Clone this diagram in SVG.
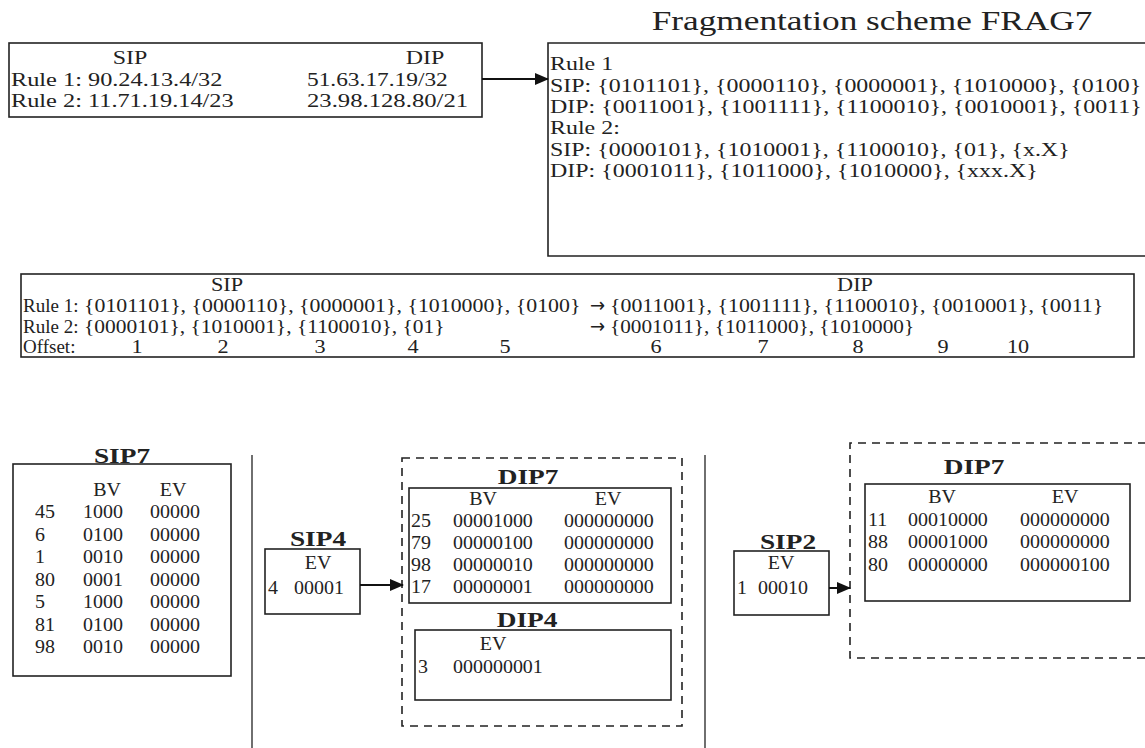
<svg xmlns="http://www.w3.org/2000/svg" width="1145" height="748" viewBox="0 0 1145 748">
  <defs>
    <marker id="arrowhead" markerWidth="14" markerHeight="12" refX="13" refY="6" orient="auto" markerUnits="userSpaceOnUse">
      <path d="M0,0 L14,6 L0,12 Z" fill="#111"/>
    </marker>
  </defs>
  <style>
    text { font-family: "Liberation Serif", "Times New Roman", serif; font-size: 19px; fill: #222; }
    .title { font-size: 28px; }
    .cell { font-size: 18px; }
    .bold { font-weight: bold; font-size: 21px; }
    .sym { font-family: "DejaVu Sans", sans-serif; font-size: 18px; }
    .mid { text-anchor: middle; }
    .box { fill: none; stroke: #222; stroke-width: 1.6; }
    .dash { fill: none; stroke: #222; stroke-width: 1.6; stroke-dasharray: 8 6; }
    .sep { stroke: #333; stroke-width: 1.4; }
    .link { stroke: #111; stroke-width: 2; fill: none; marker-end: url(#arrowhead); }
  </style>
  <rect width="1145" height="748" fill="#fff"/>

  <!-- prefix rules -->
  <g id="rules">
    <rect class="box" x="9" y="43" width="473" height="74"/>
    <text class="mid" transform="translate(130 64) scale(1.26 1)">SIP</text>
    <text class="mid" transform="translate(425 64) scale(1.26 1)">DIP</text>
    <text transform="translate(11 86) scale(1.28 1)">Rule 1: 90.24.13.4/32</text>
    <text transform="translate(307 86) scale(1.23 1)">51.63.17.19/32</text>
    <text transform="translate(11 107) scale(1.28 1)">Rule 2: 11.71.19.14/23</text>
    <text transform="translate(307 107) scale(1.3 1)">23.98.128.80/21</text>
  </g>

  <!-- fragmentation scheme -->
  <g id="frag7">
    <text class="title mid" transform="translate(872 30) scale(1.26 1)">Fragmentation scheme FRAG7</text>
    <polyline class="box" points="1146,43 548,43 548,256 1146,256"/>
    <text transform="translate(550 70) scale(1.26 1)">Rule 1</text>
    <text transform="translate(550 92) scale(1.26 1)">SIP: {0101101}, {0000110}, {0000001}, {1010000}, {0100}</text>
    <text transform="translate(550 113) scale(1.26 1)">DIP: {0011001}, {1001111}, {1100010}, {0010001}, {0011}</text>
    <text transform="translate(550 134) scale(1.26 1)">Rule 2:</text>
    <text transform="translate(550 156) scale(1.26 1)">SIP: {0000101}, {1010001}, {1100010}, {01}, {x.X}</text>
    <text transform="translate(550 177) scale(1.26 1)">DIP: {0001011}, {1011000}, {1010000}, {xxx.X}</text>
  </g>

  <!-- offset table -->
  <g id="offsets">
    <rect class="box" x="21" y="274" width="1113" height="83"/>
    <text class="mid" transform="translate(227 291) scale(1.17 1)">SIP</text>
    <text class="mid" transform="translate(855 291) scale(1.17 1)">DIP</text>
    <text transform="translate(23 312)">Rule 1:</text>
    <text transform="translate(84 312) scale(1.15 1)">{0101101}, {0000110}, {0000001}, {1010000}, {0100}</text>
    <text class="sym" transform="translate(590 312) scale(1 1.1)">→</text>
    <text transform="translate(610 312) scale(1.15 1)">{0011001}, {1001111}, {1100010}, {0010001}, {0011}</text>
    <text transform="translate(23 333)">Rule 2:</text>
    <text transform="translate(84 333) scale(1.13 1)">{0000101}, {1010001}, {1100010}, {01}</text>
    <text class="sym" transform="translate(590 333) scale(1 1.1)">→</text>
    <text transform="translate(610 333) scale(1.12 1)">{0001011}, {1011000}, {1010000}</text>
    <text transform="translate(23 353)">Offset:</text>
    <text class="mid" transform="translate(137 353) scale(1.17 1)">1</text>
    <text class="mid" transform="translate(223 353) scale(1.17 1)">2</text>
    <text class="mid" transform="translate(320 353) scale(1.17 1)">3</text>
    <text class="mid" transform="translate(413 353) scale(1.17 1)">4</text>
    <text class="mid" transform="translate(505 353) scale(1.17 1)">5</text>
    <text class="mid" transform="translate(656 353) scale(1.17 1)">6</text>
    <text class="mid" transform="translate(763 353) scale(1.17 1)">7</text>
    <text class="mid" transform="translate(858 353) scale(1.17 1)">8</text>
    <text class="mid" transform="translate(943 353) scale(1.17 1)">9</text>
    <text class="mid" transform="translate(1018 353) scale(1.17 1)">10</text>
  </g>

  <!-- panel separators -->
  <line class="sep" x1="252" y1="455" x2="252" y2="748"/>
  <line class="sep" x1="705" y1="455" x2="705" y2="748"/>

  <g id="sip7">
    <text class="bold mid" transform="translate(122 463) scale(1.3 1)">SIP7</text>
    <rect class="box" x="13" y="464" width="218" height="212"/>
    <text class="cell mid" transform="translate(107 496) scale(1.11 1)">BV</text>
    <text class="cell mid" transform="translate(173 496) scale(1.11 1)">EV</text>
    <g class="rows">
      <text class="cell" transform="translate(35 518) scale(1.11 1)">45</text><text class="cell" transform="translate(83 518) scale(1.11 1)">1000</text><text class="cell" transform="translate(150 518) scale(1.11 1)">00000</text>
      <text class="cell" transform="translate(35 541) scale(1.11 1)">6</text><text class="cell" transform="translate(83 541) scale(1.11 1)">0100</text><text class="cell" transform="translate(150 541) scale(1.11 1)">00000</text>
      <text class="cell" transform="translate(35 563) scale(1.11 1)">1</text><text class="cell" transform="translate(83 563) scale(1.11 1)">0010</text><text class="cell" transform="translate(150 563) scale(1.11 1)">00000</text>
      <text class="cell" transform="translate(35 586) scale(1.11 1)">80</text><text class="cell" transform="translate(83 586) scale(1.11 1)">0001</text><text class="cell" transform="translate(150 586) scale(1.11 1)">00000</text>
      <text class="cell" transform="translate(35 608) scale(1.11 1)">5</text><text class="cell" transform="translate(83 608) scale(1.11 1)">1000</text><text class="cell" transform="translate(150 608) scale(1.11 1)">00000</text>
      <text class="cell" transform="translate(35 631) scale(1.11 1)">81</text><text class="cell" transform="translate(83 631) scale(1.11 1)">0100</text><text class="cell" transform="translate(150 631) scale(1.11 1)">00000</text>
      <text class="cell" transform="translate(35 653) scale(1.11 1)">98</text><text class="cell" transform="translate(83 653) scale(1.11 1)">0010</text><text class="cell" transform="translate(150 653) scale(1.11 1)">00000</text>
    </g>
  </g>

  <g id="sip4">
    <text class="bold mid" transform="translate(318 546) scale(1.3 1)">SIP4</text>
    <rect class="box" x="265" y="549" width="95" height="65"/>
    <text class="cell mid" transform="translate(318 569) scale(1.11 1)">EV</text>
    <text class="cell" transform="translate(268 594) scale(1.11 1)">4</text>
    <text class="cell" transform="translate(294 594) scale(1.11 1)">00001</text>
  </g>

  <g id="group4">
    <rect class="dash" x="402" y="458" width="280" height="268"/>
  </g>

  <g id="dip7a">
    <text class="bold mid" transform="translate(528 484) scale(1.3 1)">DIP7</text>
    <rect class="box" x="409" y="488" width="262" height="115"/>
    <text class="cell mid" transform="translate(483 505) scale(1.11 1)">BV</text>
    <text class="cell mid" transform="translate(608 505) scale(1.11 1)">EV</text>
    <text class="cell" transform="translate(411 527) scale(1.11 1)">25</text><text class="cell" transform="translate(453 527) scale(1.11 1)">00001000</text><text class="cell" transform="translate(564 527) scale(1.11 1)">000000000</text>
    <text class="cell" transform="translate(411 549) scale(1.11 1)">79</text><text class="cell" transform="translate(453 549) scale(1.11 1)">00000100</text><text class="cell" transform="translate(564 549) scale(1.11 1)">000000000</text>
    <text class="cell" transform="translate(411 571) scale(1.11 1)">98</text><text class="cell" transform="translate(453 571) scale(1.11 1)">00000010</text><text class="cell" transform="translate(564 571) scale(1.11 1)">000000000</text>
    <text class="cell" transform="translate(411 593) scale(1.11 1)">17</text><text class="cell" transform="translate(453 593) scale(1.11 1)">00000001</text><text class="cell" transform="translate(564 593) scale(1.11 1)">000000000</text>
  </g>

  <g id="dip4">
    <text class="bold mid" transform="translate(527 627) scale(1.3 1)">DIP4</text>
    <rect class="box" x="415" y="630" width="256" height="70"/>
    <text class="cell mid" transform="translate(493 650) scale(1.11 1)">EV</text>
    <text class="cell" transform="translate(418 673) scale(1.11 1)">3</text>
    <text class="cell" transform="translate(453 673) scale(1.11 1)">000000001</text>
  </g>

  <g id="sip2">
    <text class="bold mid" transform="translate(788 549) scale(1.3 1)">SIP2</text>
    <rect class="box" x="734" y="551" width="95" height="64"/>
    <text class="cell mid" transform="translate(781 569) scale(1.11 1)">EV</text>
    <text class="cell" transform="translate(737 594) scale(1.11 1)">1</text>
    <text class="cell" transform="translate(758 594) scale(1.11 1)">00010</text>
  </g>

  <g id="group2">
    <polyline class="dash" points="1146,443 850,443 850,658 1146,658"/>
  </g>

  <g id="dip7b">
    <text class="bold mid" transform="translate(974 474) scale(1.3 1)">DIP7</text>
    <rect class="box" x="865" y="484" width="265" height="117"/>
    <text class="cell mid" transform="translate(942 503) scale(1.11 1)">BV</text>
    <text class="cell mid" transform="translate(1065 503) scale(1.11 1)">EV</text>
    <text class="cell" transform="translate(868 526) scale(1.11 1)">11</text><text class="cell" transform="translate(908 526) scale(1.11 1)">00010000</text><text class="cell" transform="translate(1020 526) scale(1.11 1)">000000000</text>
    <text class="cell" transform="translate(868 548) scale(1.11 1)">88</text><text class="cell" transform="translate(908 548) scale(1.11 1)">00001000</text><text class="cell" transform="translate(1020 548) scale(1.11 1)">000000000</text>
    <text class="cell" transform="translate(868 571) scale(1.11 1)">80</text><text class="cell" transform="translate(908 571) scale(1.11 1)">00000000</text><text class="cell" transform="translate(1020 571) scale(1.11 1)">000000100</text>
  </g>

  <g id="connectors">
    <line class="link" x1="482" y1="79" x2="548" y2="79"/>
    <line class="link" x1="360" y1="585" x2="403" y2="585"/>
    <line class="link" x1="829" y1="588" x2="850" y2="588"/>
  </g>
</svg>
